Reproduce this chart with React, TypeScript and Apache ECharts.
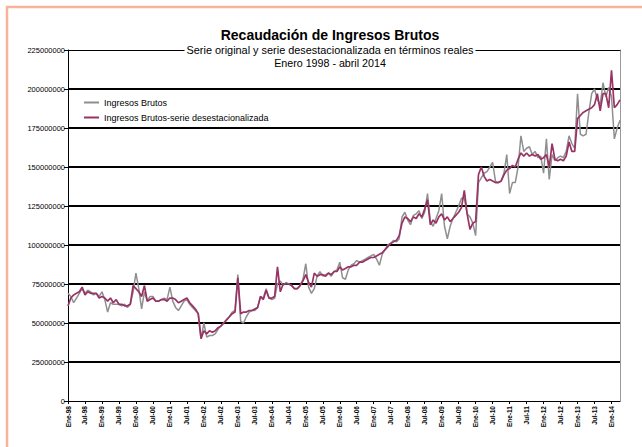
import React, { useEffect, useRef } from "react";
import * as echarts from "echarts";

const monthNames = ["Ene", "Feb", "Mar", "Abr", "May", "Jun", "Jul", "Ago", "Sep", "Oct", "Nov", "Dic"];
const yearLabels = ["98", "99", "00", "01", "02", "03", "04", "05", "06", "07", "08", "09", "10", "11", "12", "13", "14"];
const monthsInLastYear = 4;

// Millones de pesos (lectura aproximada del gráfico)
const ingresosBrutos = [
  69, 67, 63, 66, 69, 72, 69, 71, 70, 68, 69, 67,
  70, 65, 57, 63, 62, 62, 62, 61, 62, 60, 62, 70,
  82, 72, 59, 70, 64, 67, 67, 64, 64, 65, 66, 65,
  73, 64, 60, 58, 61, 64, 65, 62, 60, 58, 56, 40,
  50, 41, 42, 42, 43, 46, 48, 50, 52, 54, 57, 58,
  81, 51, 50, 54, 57, 58, 58, 60, 67, 66, 72, 66,
  65, 66, 75, 77, 74, 76, 75, 74, 72, 72, 74, 78,
  88, 73, 69, 72, 80, 83, 80, 81, 82, 80, 83, 84,
  89, 79, 78, 84, 87, 88, 90, 89, 90, 91, 92, 93,
  94, 91, 87, 94, 97, 100, 101, 103, 102, 104, 118, 121,
  116, 113, 119, 120, 122, 117, 121, 133, 115, 112, 117, 122,
  133, 112, 104, 112, 117, 121, 125, 130, 130, 120, 118, 114,
  106, 140, 143, 146, 147, 150, 153, 141, 140, 141, 146, 158,
  133, 140, 140, 150, 170, 160, 162, 163, 158, 160, 156, 157,
  146, 168, 142, 158, 154, 156, 157, 156, 160, 170, 165, 162,
  197, 171, 170, 171, 185, 197, 200, 193, 190, 204, 195, 201,
  195, 168, 175, 180,
];

const desestacionalizada = [
  61, 66, 68, 69, 70, 73, 68, 70, 69, 69, 69, 66,
  67, 66, 64, 66, 63, 65, 62, 62, 61, 61, 62, 74,
  72, 70, 67, 74, 64, 65, 66, 64, 64, 65, 65, 64,
  66, 66, 65, 63, 64, 65, 66, 63, 61, 59, 56, 40,
  45, 43, 45, 44, 45, 47, 48, 50, 52, 54, 56, 57,
  79, 56, 57, 57, 58, 58, 59, 60, 67, 65, 71, 66,
  66, 67, 86, 70, 75, 75, 75, 74, 72, 72, 74, 77,
  81, 76, 73, 82, 80, 81, 81, 80, 82, 81, 83, 83,
  86, 84, 85, 86, 86, 87, 87, 89, 89, 90, 91, 92,
  92, 93, 94, 95, 97, 99, 101, 102, 103, 106, 114, 118,
  117, 115, 118, 117, 120, 118, 123, 129, 113, 116, 114, 118,
  120, 116, 118, 115, 117, 119, 121, 124, 135, 120, 110, 114,
  115, 145, 150, 144, 141, 142, 141, 140, 140, 141, 145, 148,
  149, 151, 150, 155, 159, 157, 159, 157, 158, 157, 158, 155,
  156, 158, 150, 165, 155, 154, 155, 154, 157, 166, 160, 160,
  181, 183, 185, 186, 187, 188, 190, 197, 186, 197, 197, 188,
  212, 188, 190, 193,
];

const yMin = 0;
const yMax = 225000000;
const yInterval = 25000000;

const seriesNames = ["Ingresos Brutos", "Ingresos Brutos-serie desestacionalizada"];
const titleText = "Recaudación de Ingresos Brutos";
const subtitle1 = "Serie original y serie desestacionalizada en términos reales";
const subtitle2 = "Enero 1998 - abril 2014";

const categories: string[] = [];
yearLabels.forEach((y, yi) => {
  const n = yi === yearLabels.length - 1 ? monthsInLastYear : 12;
  for (let m = 0; m < n; m++) categories.push(monthNames[m] + "-" + y);
});

const FONT = "'Liberation Sans', Arial, Helvetica, sans-serif";

export default function App() {
  const ref = useRef<HTMLDivElement>(null);
  useEffect(() => {
    if (!ref.current) return;
    const chart = echarts.init(ref.current, undefined, { renderer: "svg" });
    const every6 = (idx: number) => idx % 6 === 0;
    chart.setOption({
      animation: false,
      backgroundColor: "#ffffff",
      textStyle: { fontFamily: FONT },
      grid: { left: 68, right: 22, top: 50, bottom: 46, containLabel: false },
      legend: {
        orient: "vertical",
        left: 79,
        top: 93,
        itemGap: 6,
        itemWidth: 15,
        itemHeight: 2,
        icon: "rect",
        data: seriesNames,
        textStyle: { fontSize: 9, color: "#000", fontFamily: FONT },
      },
      xAxis: [
        {
          type: "category",
          data: categories,
          boundaryGap: false,
          axisLine: { show: true, onZero: false, lineStyle: { color: "#000", width: 1 } },
          axisTick: { show: true, interval: (i: number) => every6(i), length: 3, lineStyle: { color: "#000" } },
          axisLabel: {
            interval: (i: number) => every6(i),
            rotate: 90,
            fontSize: 6.5,
            fontWeight: "bold",
            color: "#000",
            margin: 5,
            fontFamily: FONT,
          },
          splitLine: { show: false },
        },
        {
          type: "category",
          data: categories,
          position: "top",
          boundaryGap: false,
          axisLine: { show: true, onZero: false, lineStyle: { color: "#000", width: 1 } },
          axisTick: { show: false },
          axisLabel: { show: false },
          splitLine: { show: false },
        },
      ],
      yAxis: [
        {
          type: "value",
          min: yMin,
          max: yMax,
          interval: yInterval,
          axisLine: { show: true, lineStyle: { color: "#000", width: 1 } },
          axisTick: { show: true, length: 4, lineStyle: { color: "#000" } },
          axisLabel: { fontSize: 7.5, color: "#000", margin: 3, fontFamily: FONT, formatter: (v: number) => String(v) },
          splitLine: { show: true, showMinLine: false, showMaxLine: false, lineStyle: { color: "#000", width: 2.2 } },
        },
        {
          type: "value",
          min: yMin,
          max: yMax,
          interval: yInterval,
          position: "right",
          axisLine: { show: true, lineStyle: { color: "#9a9a9a", width: 1 } },
          axisTick: { show: false },
          axisLabel: { show: false },
          splitLine: { show: false },
        },
      ],
      series: [
        {
          name: seriesNames[0],
          type: "line",
          symbol: "none",
          showSymbol: false,
          data: ingresosBrutos.map((v) => v * 1e6),
          lineStyle: { color: "#8f8f8f", width: 1.5 },
          itemStyle: { color: "#8f8f8f" },
          z: 3,
        },
        {
          name: seriesNames[1],
          type: "line",
          symbol: "none",
          showSymbol: false,
          data: desestacionalizada.map((v) => v * 1e6),
          lineStyle: { color: "#993366", width: 1.7 },
          itemStyle: { color: "#993366" },
          z: 4,
        },
      ],
      graphic: [
        { type: "line", z: 100, shape: { x1: 6, y1: 7, x2: 642, y2: 7 }, style: { stroke: "#f8b299", lineWidth: 2.5 } },
        { type: "line", z: 100, shape: { x1: 7, y1: 6, x2: 7, y2: 447 }, style: { stroke: "#f8b299", lineWidth: 2.5 } },
        {
          type: "text",
          z: 100,
          x: 330,
          y: 35,
          style: { text: titleText, font: "bold 14px " + FONT, fill: "#000", align: "center", verticalAlign: "middle" },
        },
        {
          type: "text",
          z: 100,
          x: 330,
          y: 50,
          style: {
            text: subtitle1,
            font: "10.9px " + FONT,
            fill: "#000",
            align: "center",
            verticalAlign: "middle",
            backgroundColor: "#ffffff",
            padding: [0, 2],
          },
        },
        {
          type: "text",
          z: 100,
          x: 330,
          y: 63,
          style: { text: subtitle2, font: "10.7px " + FONT, fill: "#000", align: "center", verticalAlign: "middle" },
        },
      ],
    });
    return () => chart.dispose();
  }, []);
  return (
    <div
      ref={ref}
      style={{ position: "fixed", left: 0, top: 0, width: 642, height: 447, background: "#fff" }}
    />
  );
}
